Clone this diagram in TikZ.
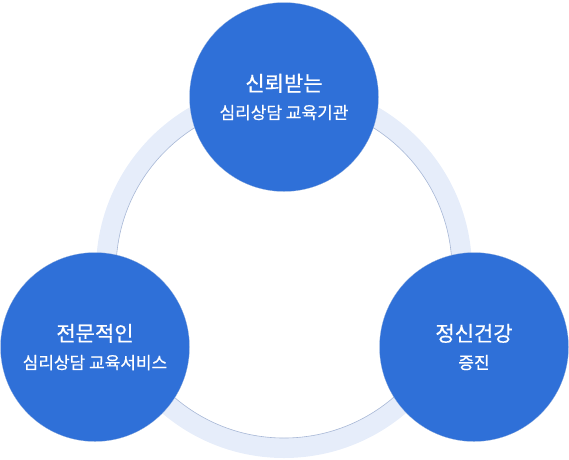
\documentclass[tikz,border=0pt]{standalone}
\usepackage{fontspec}
\setmainfont{Noto Sans CJK KR}
\newfontfamily\hubfont[FakeBold=0.5]{Noto Sans CJK KR}
\usepackage{tikz}
\usetikzlibrary{positioning}
\definecolor{hubblue}{RGB}{47,112,216}
\definecolor{ringfill}{RGB}{230,237,250}
\definecolor{ringline}{RGB}{168,184,214}
\newcommand{\hubtitle}[1]{{\fontsize{21}{24}\selectfont #1}}
\newcommand{\hubsub}[1]{{\fontsize{17}{20}\selectfont #1}}

\begin{document}
\begin{tikzpicture}[x=1pt, y=-1pt,
    hub/.style={circle, fill=hubblue, draw=hubblue!80!black!40, very thin, minimum size=189pt, inner sep=0pt, text=white, align=center, font=\hubfont}]
  \useasboundingbox (0,0) rectangle (569,459);
  % ring behind the circles
  \coordinate (ring) at (284,270);
  \fill[ringfill, even odd rule] (ring) circle[radius=188] (ring) circle[radius=168];
  \draw[ringline, line width=0.6pt] (ring) circle[radius=168];
  % three hubs
  \node[hub] (trust) at (284,97) {\hubtitle{신뢰받는}\\[11pt]\hubsub{심리상담 교육기관}};
  \node[hub] (expert) at (95,347) {\hubtitle{전문적인}\\[11pt]\hubsub{심리상담 교육서비스}};
  \node[hub] (health) at (474,347) {\hubtitle{정신건강}\\[11pt]\hubsub{증진}};
\end{tikzpicture}
\end{document}
